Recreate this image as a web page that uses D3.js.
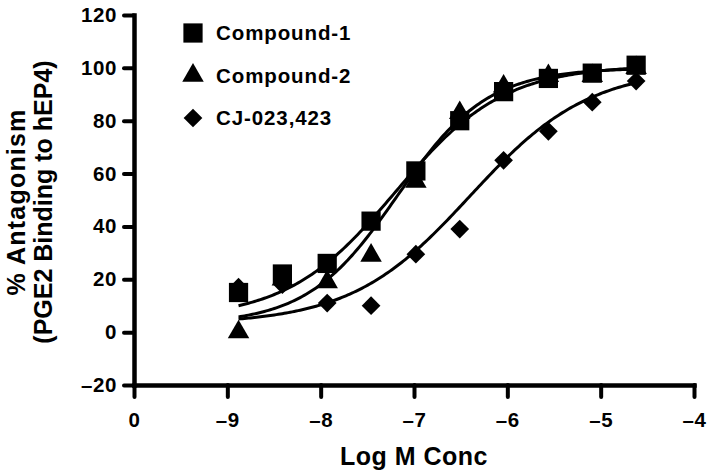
<!DOCTYPE html>
<html><head><meta charset="utf-8">
<script src="https://cdn.jsdelivr.net/npm/d3@7"></script>
<style>body{margin:0;background:#fff} text{font-family:"Liberation Sans",Arial,sans-serif;font-weight:bold;fill:#000}</style>
</head>
<body><svg id="c" width="709" height="476"></svg>
<script>
// ---- data ----
const logConc = [-8.88, -8.41, -7.93, -7.46, -6.98, -6.51, -6.04, -5.56, -5.09, -4.62];
const compound1 = [15, 22, 26, 42, 61, 80, 91, 96, 98, 101];
const compound2 = [0, 20, 19, 29, 57, 83, 93, 97, 97, 100];
const cj023423 = [17, 18, 11, 10, 29.5, 39, 65, 76, 87, 95];
const seriesNames = ["Compound-1", "Compound-2", "CJ-023,423"];
// fitted sigmoid (4-parameter logistic) curve parameters, one per series
const fitBottom = [5, 3, 3];
const fitTop = [101, 100, 100];
const fitLogEC50 = [-7.2, -7.18, -6.4];
const fitHill = [0.75, 0.9, 0.68];
const xTicks = [-10, -9, -8, -7, -6, -5, -4];
const xTickLabels = ["0", "–9", "–8", "–7", "–6", "–5", "–4"];
const yTicks = [-20, 0, 20, 40, 60, 80, 100, 120];
const yTickLabels = ["–20", "0", "20", "40", "60", "80", "100", "120"];

const logistic = (i, xv) => fitBottom[i] + (fitTop[i] - fitBottom[i]) / (1 + Math.pow(10, (fitLogEC50[i] - xv) * fitHill[i]));

// ---- chart ----
const svg = d3.select("#c");
const x = d3.scaleLinear().domain([-10, -4]).range([134, 694]);
const y = d3.scaleLinear().domain([-20, 120]).range([385, 15]);

const series = [
  { name: seriesNames[0], values: compound1, sym: "square" },
  { name: seriesNames[1], values: compound2, sym: "triangle" },
  { name: seriesNames[2], values: cj023423, sym: "diamond" }
];
const symPath = {
  square: d3.symbol().type(d3.symbolSquare).size(370)(),
  triangle: d3.symbol().type(d3.symbolTriangle).size(200)(),
  diamond: d3.symbol().type(d3.symbolSquare).size(175)()
};
const symRot = { square: 0, triangle: 0, diamond: 45 };

// axes
const yAxis = svg.append("g").attr("transform", `translate(${x(-10)},0)`)
  .call(d3.axisLeft(y).tickValues(yTicks).tickFormat((d, i) => yTickLabels[i]).tickSize(10).tickSizeOuter(0).tickPadding(7));
const xAxis = svg.append("g").attr("transform", `translate(0,${y(-20)})`)
  .call(d3.axisBottom(x).tickValues(xTicks).tickFormat((d, i) => xTickLabels[i]).tickSize(12).tickSizeOuter(0).tickPadding(15));
[yAxis, xAxis].forEach(g => {
  g.select(".domain").attr("stroke", "#000").attr("stroke-width", 4.5).attr("stroke-linecap", "square");
  g.selectAll(".tick line").attr("stroke", "#000").attr("stroke-width", 4).attr("stroke-linecap", "round");
  g.selectAll(".tick text").attr("font-size", 20.5).attr("letter-spacing", "0.6px")
    .attr("font-family", "Liberation Sans, Arial, sans-serif").attr("font-weight", "bold").attr("fill", "#000");
});
xAxis.selectAll(".tick text").attr("dy", "0.71em");

// fitted curves
const line = d3.line().x(d => x(d[0])).y(d => y(d[1]));
series.forEach((s, si) => {
  const x0 = d3.min(logConc), x1 = d3.max(logConc);
  const pts = d3.range(0, 201).map(i => { const xv = x0 + (x1 - x0) * i / 200; return [xv, logistic(si, xv)]; });
  svg.append("path").datum(pts).attr("d", line).attr("fill", "none").attr("stroke", "#000").attr("stroke-width", 3);
});

// markers
series.forEach(s => {
  svg.append("g").selectAll("path").data(s.values).join("path")
    .attr("d", symPath[s.sym])
    .attr("transform", (d, i) => `translate(${x(logConc[i])},${y(d)}) rotate(${symRot[s.sym]})`)
    .attr("fill", "#000");
});

// legend
const lg = svg.append("g");
series.forEach((s, i) => {
  const cy = 33 + i * 42.5;
  lg.append("path").attr("d", symPath[s.sym]).attr("transform", `translate(193,${cy}) rotate(${symRot[s.sym]})`).attr("fill", "#000");
  lg.append("text").attr("x", 216).attr("y", cy).attr("dy", "0.36em").attr("font-size", 20.5).attr("letter-spacing", "0.9px").text(s.name);
});

// axis titles
svg.append("text").attr("x", x(-7)).attr("y", 465).attr("text-anchor", "middle").attr("font-size", 25).attr("letter-spacing", "0.5px").text("Log M Conc");
const yt = svg.append("text").attr("text-anchor", "middle").attr("font-size", 25)
  .attr("transform", "translate(0,202) rotate(-90)");
yt.append("tspan").attr("x", 0).attr("y", 25).attr("letter-spacing", "1.2px").text("% Antagonism");
yt.append("tspan").attr("x", 0).attr("y", 52).text("(PGE2 Binding to hEP4)");
</script>
</body></html>
